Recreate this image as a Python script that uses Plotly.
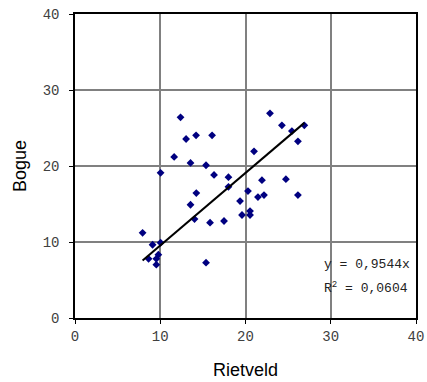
import plotly.graph_objects as go

rietveld = [12.38, 13.03, 14.20, 16.08, 11.63, 13.55, 15.37, 10.04, 16.31, 18.00,
            22.87, 24.27, 25.44, 26.90, 26.15, 21.00, 21.93, 24.74, 18.00, 20.29,
            14.23, 13.55, 19.36, 14.02, 15.84, 17.48, 19.59, 20.53, 20.53, 7.93,
            9.10, 10.04, 8.63, 9.78, 9.54, 9.54, 15.37, 21.46, 22.17, 26.15]
bogue = [26.40, 23.55, 24.04, 24.04, 21.19, 20.41, 20.10, 19.10, 18.83, 18.53,
         26.93, 25.35, 24.60, 25.35, 23.25, 21.93, 18.14, 18.27, 17.26, 16.70,
         16.44, 14.90, 15.38, 13.02, 12.54, 12.76, 13.55, 14.07, 13.55, 11.21,
         9.64, 9.90, 7.78, 8.33, 7.78, 7.02, 7.28, 15.91, 16.17, 16.17]
slope = 0.9544
r2 = "0,0604"
tick_vals = [0, 10, 20, 30, 40]

xmin, xmax = min(rietveld), max(rietveld)

fig = go.Figure()
fig.add_trace(go.Scatter(x=rietveld, y=bogue, mode="markers",
                         marker=dict(symbol="diamond", size=6, color="#000080"),
                         showlegend=False, hoverinfo="skip"))
fig.add_trace(go.Scatter(x=[xmin, xmax], y=[slope * xmin, slope * xmax], mode="lines",
                         line=dict(color="black", width=2), showlegend=False, hoverinfo="skip"))

mono = "Liberation Mono, Courier New, monospace"
fig.add_annotation(x=1.0, y=0.0, xref="paper", yref="paper", xanchor="right", yanchor="middle",
                   xshift=-4, yshift=54, showarrow=False,
                   text="y = 0,9544x", font=dict(family=mono, size=13, color="#222222"))
fig.add_annotation(x=1.0, y=0.0, xref="paper", yref="paper", xanchor="right", yanchor="middle",
                   xshift=-6, yshift=31, showarrow=False,
                   text="R<sup>2</sup> = " + r2, font=dict(family=mono, size=13, color="#222222"))

axis_common = dict(range=[0, 40], tickvals=tick_vals, showgrid=True, gridcolor="#808080",
                   gridwidth=1.5, zeroline=False, showline=True, linecolor="black", mirror=True,
                   ticks="outside", ticklen=4, tickcolor="black", automargin=False,
                   tickfont=dict(family=mono, size=14, color="#404040"))

fig.update_layout(
    width=427, height=382,
    margin=dict(l=75, r=11, t=14, b=64),
    plot_bgcolor="white", paper_bgcolor="white",
    xaxis=dict(**axis_common, linewidth=2,
               title=dict(text="Rietveld", font=dict(family="Liberation Sans, Arial", size=18, color="black"),
                          standoff=20)),
    yaxis=dict(**axis_common, linewidth=1.5, ticklabelstandoff=7,
               title=dict(text="Bogue", font=dict(family="Liberation Sans, Arial", size=18, color="black"),
                          standoff=11)),
)

fig.write_html("out.html")
